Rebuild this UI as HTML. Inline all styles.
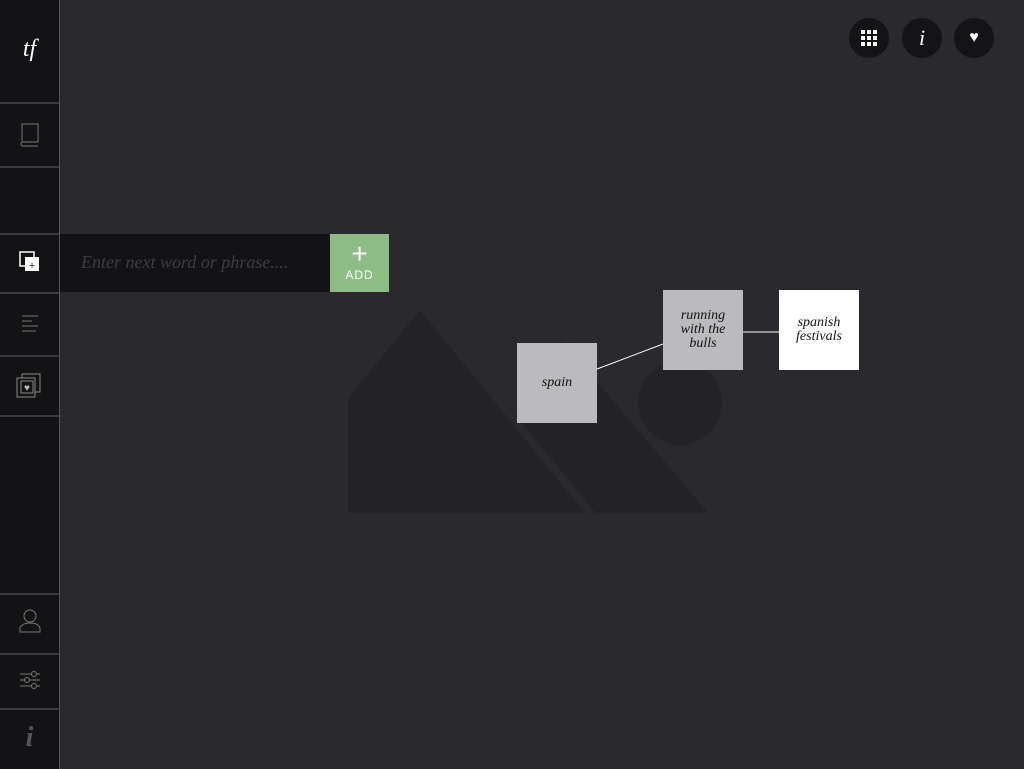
<!DOCTYPE html>
<html><head><style>
body{margin:0;width:1024px;height:769px;background:#2a292e;position:relative;overflow:hidden;font-family:"Liberation Serif",serif}
.sb{position:absolute;left:0;top:0;width:59px;height:769px;background:#131315;border-right:1px solid #56555a}
.ln{position:absolute;left:0;width:59px;height:2px;background:#3a393e}
.ic{position:absolute;left:0;width:59px;text-align:center}
.node{position:absolute;width:80px;height:80px;display:flex;align-items:center;justify-content:center;text-align:center;font-style:italic;font-size:14px;line-height:14px;color:#111}
.tb{position:absolute;top:18px;width:40px;height:40px;border-radius:50%;background:#141416;color:#fff;text-align:center;line-height:40px}
</style></head><body>
<svg width="1024" height="769" style="position:absolute;left:0;top:0">
<circle cx="680" cy="403" r="42" fill="#232326"/>
<polygon points="562,340 708,513 470,513" fill="#232326" stroke="#2a292e" stroke-width="16" stroke-linejoin="round"/>
<polygon points="562,340 708,513 470,513" fill="#232326"/>
<polygon points="348,398 420,310 585,513 348,513" fill="#232326" stroke="#2a292e" stroke-width="16"/>
<polygon points="348,398 420,310 585,513 348,513" fill="#232326"/>
<rect x="300" y="514" width="500" height="30" fill="#2a292e"/>
<rect x="330" y="380" width="18" height="140" fill="#2a292e"/>
<line x1="597" y1="369" x2="663" y2="344" stroke="#fff" stroke-width="1"/>
<line x1="743" y1="332" x2="779" y2="332" stroke="#fff" stroke-width="1"/>
</svg>
<div class="sb"></div>
<div class="ln" style="top:102px"></div>
<div class="ln" style="top:166px"></div>
<div class="ln" style="top:233px"></div>
<div class="ln" style="top:292px"></div>
<div class="ln" style="top:355px"></div>
<div class="ln" style="top:415px"></div>
<div class="ln" style="top:593px"></div>
<div class="ln" style="top:653px"></div>
<div class="ln" style="top:708px"></div>
<div class="ic" style="top:36px;color:#fff;font-style:italic;font-size:24px">tf</div>
<svg style="position:absolute;left:20px;top:123px" width="20" height="24"><rect x="2" y="1" width="16" height="18" fill="none" stroke="#777"/><path d="M2 19 q-2 2 0 4 h16" fill="none" stroke="#777"/></svg>
<svg style="position:absolute;left:18px;top:250px" width="24" height="24"><rect x="2" y="2" width="14" height="14" fill="none" stroke="#fff" stroke-width="1.5"/><rect x="7" y="7" width="14" height="14" fill="#fff"/><text x="14" y="19" font-size="12" text-anchor="middle" fill="#000">+</text></svg>
<svg style="position:absolute;left:20px;top:314px" width="20" height="20"><g stroke="#555" stroke-width="1.5"><line x1="2" y1="2" x2="18" y2="2"/><line x1="2" y1="7" x2="12" y2="7"/><line x1="2" y1="12" x2="18" y2="12"/><line x1="2" y1="17" x2="16" y2="17"/></g></svg>
<svg style="position:absolute;left:16px;top:373px" width="26" height="26"><rect x="6" y="1" width="18" height="18" fill="none" stroke="#888"/><rect x="1" y="5" width="18" height="19" fill="#131315" stroke="#888"/><rect x="5" y="8" width="12" height="12" fill="none" stroke="#888"/><text x="11" y="18" font-size="10" text-anchor="middle" fill="#bbb">♥</text></svg>
<svg style="position:absolute;left:18px;top:608px" width="24" height="26"><circle cx="12" cy="8" r="6" fill="none" stroke="#777"/><path d="M2 24 v-4 q2-5 10-5 q8 0 10 5 v4z" fill="none" stroke="#777"/></svg>
<svg style="position:absolute;left:19px;top:670px" width="22" height="22"><g stroke="#777" fill="#131315"><line x1="1" y1="4" x2="21" y2="4"/><line x1="1" y1="10" x2="21" y2="10"/><line x1="1" y1="16" x2="21" y2="16"/><circle cx="15" cy="4" r="2.5"/><circle cx="8" cy="10" r="2.5"/><circle cx="15" cy="16" r="2.5"/></g></svg>
<div class="ic" style="top:722px;color:#55545a;font-style:italic;font-size:28px;font-weight:bold">i</div>
<div style="position:absolute;left:60px;top:234px;width:270px;height:58px;background:#131315"></div>
<div style="position:absolute;left:81px;top:252px;color:#3e3d42;font-style:italic;font-size:18px">Enter next word or phrase....</div>
<div style="position:absolute;left:330px;top:234px;width:59px;height:58px;background:#8dbd84;color:#fff;text-align:center;font-family:'Liberation Sans',sans-serif">
<div style="font-size:28px;line-height:28px;margin-top:6px;font-weight:300">+</div><div style="font-size:12px;letter-spacing:1px">ADD</div></div>
<div class="node" style="left:517px;top:343px;background:#bbbbbe">spain</div>
<div class="node" style="left:663px;top:290px;background:#bbbbbe">running<br>with the<br>bulls</div>
<div class="node" style="left:779px;top:290px;background:#fff">spanish<br>festivals</div>
<div class="tb" style="left:849px"><svg width="16" height="16" style="margin-top:12px"><g fill="#fff"><rect x="0" y="0" width="4" height="4"/><rect x="6" y="0" width="4" height="4"/><rect x="12" y="0" width="4" height="4"/><rect x="0" y="6" width="4" height="4"/><rect x="6" y="6" width="4" height="4"/><rect x="12" y="6" width="4" height="4"/><rect x="0" y="12" width="4" height="4"/><rect x="6" y="12" width="4" height="4"/><rect x="12" y="12" width="4" height="4"/></g></svg></div>
<div class="tb" style="left:902px;font-style:italic;font-size:22px">i</div>
<div class="tb" style="left:954px;font-size:16px">♥</div>
</body></html>
